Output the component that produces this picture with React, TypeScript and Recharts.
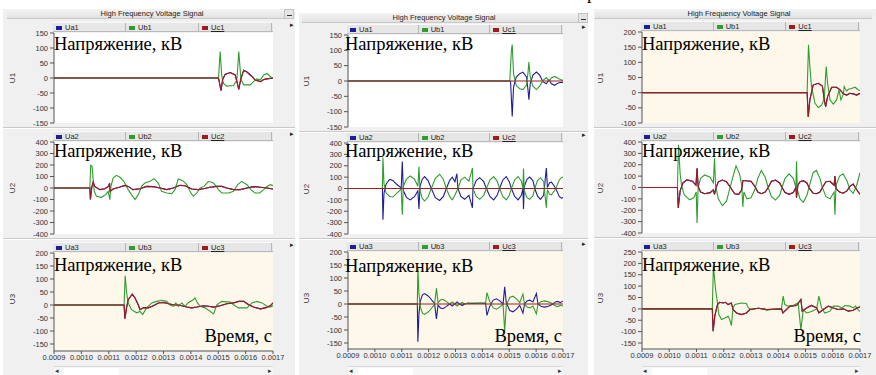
import { LineChart, Line, XAxis, YAxis, CartesianGrid } from "recharts";

// time in microseconds, shown on the axis in seconds
const timeTicks = [900, 1000, 1100, 1200, 1300, 1400, 1500, 1600, 1700];
const fmtTime = (v: number) => (v / 1e6).toFixed(4);

const ticks150 = [-150, -100, -50, 0, 50, 100, 150];
const ticks400 = [-400, -300, -200, -100, 0, 100, 200, 300, 400];
const ticks200 = [-150, -100, -50, 0, 50, 100, 150, 200];
const ticks200b = [-100, -50, 0, 50, 100, 150, 200];
const ticks250 = [-150, -100, -50, 0, 50, 100, 150, 200, 250];

const legendNames = ["Ua", "Ub", "Uc"];
const rowNames = ["U1", "U2", "U3"];
const title = "High Frequency Voltage Signal";
const voltText = "Напряжение, кВ";
const timeText = "Время, с";

const BLUE = "#1e1e96";
const GREEN = "#2f9e2f";
const RED = "#a01c1c";

type S = [number, number][];

const flat: S = [[900, 0], [1700, 0]];

// ---- column 1 ----
const c1r1B: S = [[900, 0], [1501, 0], [1507, 88], [1513, 5], [1519, -18], [1531, -27], [1556, -25], [1568, -7], [1575, 88], [1583, -5], [1593, -23], [1617, -23], [1629, -12], [1641, -3], [1654, -6], [1666, 10], [1678, 15], [1690, 5], [1700, -2]];
const c1r1C: S = [[900, 0], [1501, 0], [1510, -42], [1516, -5], [1525, 12], [1544, 18], [1562, 10], [1569, -15], [1575, -38], [1582, -5], [1593, 26], [1605, 20], [1623, 5], [1635, -7], [1654, -12], [1666, -5], [1678, -3], [1700, 0]];

const c1r2B: S = [[900, 0], [1031, 0], [1034, 197], [1039, 188], [1047, -29], [1055, -72], [1073, -81], [1089, -58], [1098, -29], [1104, -101], [1108, 15], [1116, 87], [1128, 110], [1141, 93], [1155, 58], [1171, -14], [1183, -58], [1196, -101], [1208, -58], [1220, 14], [1232, 43], [1251, 58], [1265, 81], [1281, 43], [1293, -29], [1312, -43], [1330, -49], [1342, -14], [1354, 78], [1370, 64], [1385, 29], [1400, -43], [1409, -72], [1422, -43], [1434, 0], [1448, 14], [1464, 58], [1483, 43], [1501, -14], [1513, -43], [1538, -43], [1556, -29], [1571, 29], [1586, 58], [1605, 29], [1619, -14], [1635, -43], [1651, -43], [1666, -14], [1678, 14], [1690, 29], [1700, 20]];
const c1r2C: S = [[900, 0], [1031, 0], [1033, -100], [1038, 5], [1043, 52], [1049, 14], [1067, -14], [1086, -6], [1099, 14], [1103, 43], [1105, -29], [1116, -9], [1141, 9], [1159, 23], [1171, 14], [1189, -14], [1214, -6], [1238, 14], [1263, 12], [1287, 0], [1312, -14], [1336, 0], [1360, 23], [1379, 20], [1403, -9], [1428, -14], [1446, -6], [1470, 6], [1495, 14], [1513, 14], [1531, 0], [1556, -14], [1580, -14], [1605, 0], [1629, 12], [1654, 6], [1678, 0], [1700, -9]];

const c1r3B: S = [[900, 0], [1156, 0], [1160, 112], [1165, 50], [1171, 8], [1183, -18], [1202, -30], [1214, -25], [1224, -37], [1238, -11], [1257, 8], [1275, 14], [1293, 18], [1312, 14], [1324, 0], [1336, -5], [1345, 8], [1354, -5], [1367, 8], [1379, -5], [1391, 10], [1409, 20], [1415, 27], [1424, 8], [1434, -5], [1452, -11], [1483, -34], [1495, 1], [1513, 14], [1544, 11], [1556, 1], [1574, -11], [1605, -11], [1623, 8], [1641, 14], [1660, 8], [1678, -5], [1690, -8], [1700, -3]];
const c1r3C: S = [[900, 0], [1156, 0], [1159, -53], [1165, -11], [1171, 20], [1186, 42], [1196, 27], [1208, 0], [1214, -18], [1226, -11], [1244, -11], [1263, -3], [1281, 8], [1299, 10], [1318, 5], [1336, 1], [1360, -1], [1385, -8], [1403, -11], [1422, -8], [1446, -3], [1464, -5], [1483, -8], [1507, -3], [1531, 5], [1556, 8], [1574, 14], [1593, 14], [1611, 1], [1629, -8], [1654, -15], [1672, -11], [1690, -3], [1700, 8]];

// ---- column 2 ----
const c2r1A: S = [[900, 0], [1502, 0], [1505, -3], [1511, -116], [1516, -20], [1526, 13], [1539, 24], [1551, 29], [1564, 13], [1570, -31], [1573, -61], [1578, -9], [1588, 19], [1601, 29], [1613, 19], [1626, -3], [1638, -9], [1648, 4], [1657, -9], [1669, -14], [1681, -7], [1690, -5], [1700, -5]];
const c2r1B: S = [[900, 0], [1502, 0], [1508, 100], [1511, 119], [1516, 24], [1526, -14], [1539, -25], [1551, -28], [1564, -14], [1570, 29], [1573, 62], [1578, 13], [1588, -17], [1601, -28], [1613, -17], [1626, 2], [1638, 11], [1648, 0], [1657, 11], [1669, 15], [1681, 9], [1690, 5], [1700, 2]];

const c2r2A: S = [[900, 0], [1028, 0], [1030, -275], [1034, -40], [1042, 40], [1055, 80], [1067, 70], [1082, 35], [1098, 5], [1102, 237], [1106, -20], [1118, -80], [1132, -100], [1148, -70], [1160, -20], [1164, -180], [1168, 20], [1176, 80], [1185, 105], [1198, 70], [1210, 0], [1225, -80], [1241, -105], [1255, -70], [1266, 0], [1278, 70], [1288, 100], [1298, 60], [1305, 130], [1309, 0], [1320, -70], [1334, -95], [1350, -60], [1363, -170], [1365, 0], [1377, 70], [1390, 95], [1405, 60], [1415, 0], [1428, -70], [1442, -100], [1455, -60], [1464, 0], [1476, 75], [1489, 105], [1500, 60], [1508, 0], [1520, -70], [1533, -100], [1545, -60], [1551, 0], [1553, -180], [1556, 20], [1566, 80], [1576, 100], [1588, 70], [1595, 0], [1605, -65], [1616, -95], [1628, -60], [1638, 180], [1642, 10], [1650, 50], [1657, 55], [1668, 20], [1675, -10], [1686, -70], [1694, -85], [1700, -80]];
const c2r2B: S = [[900, 0], [1028, 0], [1030, 272], [1034, 40], [1042, -40], [1055, -70], [1067, -75], [1082, -40], [1098, -5], [1102, -231], [1106, 20], [1118, 85], [1132, 110], [1148, 80], [1160, 20], [1164, 190], [1168, -20], [1176, -85], [1185, -110], [1198, -75], [1210, 0], [1225, 90], [1241, 125], [1255, 80], [1266, 0], [1278, -70], [1288, -100], [1298, -60], [1305, -20], [1309, 0], [1320, 75], [1334, 100], [1350, 65], [1363, 180], [1365, 0], [1377, -70], [1390, -95], [1405, -60], [1415, 0], [1428, 75], [1442, 105], [1455, 65], [1464, 0], [1476, -70], [1489, -100], [1500, -60], [1508, 0], [1520, 75], [1533, 105], [1545, 65], [1551, 0], [1553, 175], [1556, -20], [1566, -80], [1576, -95], [1588, -65], [1595, 0], [1605, 70], [1616, 95], [1628, 60], [1638, -170], [1642, -10], [1650, -50], [1657, -55], [1668, -20], [1675, 10], [1686, 75], [1694, 95], [1700, 100]];

const c2r3A: S = [[900, 0], [1158, 0], [1160, -145], [1164, -38], [1169, 10], [1177, 35], [1185, 40], [1197, 32], [1204, 25], [1214, 12], [1222, 2], [1229, -57], [1235, -5], [1244, -15], [1253, -18], [1265, -10], [1278, 0], [1288, -8], [1297, 0], [1306, 8], [1315, 0], [1325, -6], [1334, 0], [1347, 4], [1359, 2], [1390, 3], [1412, 3], [1417, -44], [1427, -10], [1440, 15], [1452, 20], [1465, 12], [1477, 0], [1483, 66], [1489, 5], [1502, -25], [1514, -30], [1527, -20], [1539, -5], [1551, -35], [1557, 0], [1566, 12], [1576, 15], [1588, 8], [1601, 40], [1607, 0], [1620, -10], [1632, -12], [1648, -8], [1663, 0], [1672, 8], [1681, 10], [1690, 5], [1700, 12]];
const c2r3B: S = [[900, 0], [1158, 0], [1160, 140], [1164, 40], [1169, -10], [1177, -35], [1185, -40], [1197, -32], [1204, -25], [1214, -12], [1222, -2], [1229, 60], [1235, 5], [1244, 15], [1253, 18], [1265, 10], [1278, 0], [1288, 8], [1297, 0], [1306, -8], [1315, 0], [1325, 6], [1334, 0], [1347, 3], [1359, 4], [1390, 4], [1412, 4], [1417, 44], [1427, 10], [1440, -15], [1452, -20], [1465, -12], [1477, 0], [1483, -104], [1489, -5], [1502, 25], [1514, 30], [1527, 20], [1539, 5], [1551, 38], [1557, 0], [1566, -12], [1576, -15], [1588, -8], [1601, -38], [1607, 0], [1620, 10], [1632, 12], [1648, 8], [1663, 0], [1672, -8], [1681, -10], [1690, -5], [1700, -8]];

// ---- column 3 ----
const c3r1B: S = [[900, 0], [1506, 0], [1511, 158], [1516, 86], [1522, 20], [1535, -35], [1547, -49], [1559, -41], [1569, -19], [1574, 60], [1576, 86], [1581, 31], [1590, -24], [1602, -38], [1614, -24], [1623, 9], [1630, -24], [1639, -5], [1642, 20], [1651, 5], [1657, 11], [1669, 14], [1682, 18], [1694, 9], [1700, 7]];
const c3r1C: S = [[900, 0], [1506, 0], [1510, -80], [1516, -24], [1528, 25], [1547, 31], [1562, 22], [1569, -24], [1574, -46], [1581, -13], [1596, 18], [1614, 18], [1627, 9], [1639, -4], [1651, -8], [1663, -2], [1675, -4], [1688, -8], [1700, -2]];

const c3r2B: S = [[900, 0], [1030, 0], [1034, 375], [1040, 120], [1045, 20], [1055, -64], [1075, -108], [1090, -90], [1099, -40], [1102, -313], [1106, 0], [1115, 80], [1130, 111], [1150, 90], [1162, 40], [1166, 258], [1170, 20], [1180, -100], [1195, -160], [1210, -120], [1220, -30], [1230, 60], [1245, 190], [1258, 120], [1266, 20], [1270, -170], [1274, -40], [1285, -100], [1300, -90], [1314, -20], [1325, 80], [1338, 150], [1352, 90], [1363, 0], [1375, -80], [1390, -110], [1405, -70], [1414, 0], [1425, 80], [1440, 120], [1455, 80], [1465, 0], [1467, 230], [1470, -20], [1480, -100], [1492, -130], [1505, -70], [1515, 20], [1528, 130], [1540, 150], [1553, 80], [1562, 0], [1575, -80], [1590, -100], [1605, -40], [1608, -240], [1612, 20], [1625, 100], [1638, 120], [1652, 60], [1663, -20], [1675, -50], [1688, 20], [1700, 130]];
const c3r2C: S = [[900, 0], [1030, 0], [1033, -180], [1040, -30], [1050, 40], [1065, 67], [1085, 55], [1098, 20], [1102, 170], [1106, 10], [1115, -40], [1130, -55], [1150, -45], [1162, -20], [1166, -60], [1172, 0], [1180, 50], [1195, 65], [1210, 50], [1225, 0], [1240, -55], [1255, -60], [1266, -20], [1270, 60], [1280, 60], [1300, 55], [1314, 10], [1325, -40], [1338, -55], [1352, -40], [1363, 0], [1375, 55], [1390, 65], [1405, 40], [1414, 0], [1425, -45], [1440, -60], [1455, -45], [1465, 0], [1467, -90], [1472, 20], [1480, 50], [1492, 60], [1505, 40], [1515, -10], [1528, -50], [1540, -55], [1553, -40], [1562, 0], [1575, 50], [1590, 55], [1605, 20], [1608, 100], [1612, -10], [1625, -40], [1638, -50], [1652, -30], [1663, 10], [1675, 30], [1688, -20], [1700, -60]];

const c3r3B: S = [[900, 0], [1158, 0], [1162, 188], [1170, 85], [1177, 26], [1182, -25], [1192, -47], [1204, -40], [1216, -32], [1222, -47], [1228, -74], [1234, 4], [1241, 19], [1265, 26], [1283, 24], [1290, 4], [1302, -3], [1326, 3], [1351, 0], [1357, -7], [1375, -3], [1400, 0], [1412, 3], [1418, 56], [1424, 19], [1437, 12], [1449, 12], [1473, 26], [1483, -91], [1492, -3], [1504, -18], [1522, -12], [1541, 0], [1549, 56], [1559, 4], [1571, -18], [1590, -10], [1602, 12], [1620, 12], [1633, 4], [1645, 15], [1663, 12], [1675, 4], [1684, 12], [1694, -6], [1700, -12]];
const c3r3C: S = [[900, 0], [1158, 0], [1161, -98], [1167, -32], [1177, 19], [1185, 29], [1198, 26], [1206, 29], [1216, 19], [1228, 26], [1234, -3], [1247, -18], [1265, -25], [1283, -18], [1296, -3], [1326, 3], [1357, -3], [1412, 0], [1417, -18], [1424, -10], [1443, 12], [1467, 15], [1483, 41], [1488, -10], [1504, 4], [1522, 15], [1541, 4], [1549, -18], [1565, -3], [1584, 12], [1602, 4], [1620, -3], [1639, 0], [1657, -10], [1675, -6], [1688, 3], [1700, 9]];

// series per column / row: [Ua, Ub, Uc]
const seriesGrid: S[][][] = [
  [[c1r1C, c1r1B, c1r1C], [c1r2C, c1r2B, c1r2C], [c1r3C, c1r3B, c1r3C]],
  [[c2r1A, c2r1B, flat], [c2r2A, c2r2B, flat], [c2r3A, c2r3B, flat]],
  [[c3r1C, c3r1B, c3r1C], [c3r2C, c3r2B, c3r2C], [c3r3C, c3r3B, c3r3C]],
];

const domains: [number, number][][] = [
  [[-150, 150], [-400, 400], [-150, 200]],
  [[-150, 150], [-400, 400], [-150, 200]],
  [[-100, 200], [-400, 400], [-150, 250]],
];
const tickGrid = [
  [ticks150, ticks400, ticks200],
  [ticks150, ticks400, ticks200],
  [ticks200b, ticks400, ticks250],
];
const cream = [
  [false, false, true],
  [false, false, true],
  [true, false, true],
];

const cols = [
  { frameX: 3, frameW: 292, titleTop: 9, titleLeft: 7, titleW: 277, titleCx: 152, x: 54, w: 219, tops: [33, 142, 253], hs: [90, 92, 91], gap: 7, btn: 284, arrow: 290, head: [50, 157.5, 271], headX: 54, timeRight: 272 },
  { frameX: 299, frameW: 289, titleTop: 13, titleLeft: 302, titleW: 276, titleCx: 444, x: 348, w: 215, tops: [35, 143, 252], hs: [92, 91, 91], gap: 6, btn: 578, arrow: 582, head: [50, 157, 272], headX: 345, timeRight: 562 },
  { frameX: 594, frameW: 282, titleTop: 9, titleLeft: 595, titleW: 277, titleCx: 739, x: 642, w: 218, tops: [32, 142, 252], hs: [91, 91, 91], gap: 6, btn: null, arrow: null, head: [50, 157, 271], headX: 642, timeRight: 861 },
];

const ui = "'Liberation Sans', Arial, sans-serif";
const serif = "'Liberation Serif', 'Times New Roman', serif";
const colors = [BLUE, GREEN, RED];
const bigFont = 18.5;
const baseOff = bigFont * 0.8375;

function Panel({ x, y, w, h, domain, ticks, bg, series, axis, gap }: any) {
  const [lo, hi] = domain;
  const plotH = axis ? h + gap : h;
  const low = axis ? lo - (gap * (hi - lo)) / h : lo;
  const yw = 50;
  const top = 6;
  const right = 16;
  const xh = axis ? 16 : 0;
  return (
    <div style={{ position: "absolute", left: x - yw, top: y - top }}>
      <LineChart
        width={yw + w + right}
        height={top + plotH + xh + (axis ? 0 : 4)}
        margin={{ top, right, bottom: axis ? 0 : 4, left: 0 }}
      >
        <CartesianGrid horizontal={false} vertical={false} fill={bg} fillOpacity={1} stroke="none" />
        <XAxis
          type="number"
          dataKey="t"
          domain={[900, 1700]}
          ticks={timeTicks}
          interval={0}
          hide={!axis}
          height={xh}
          tickFormatter={fmtTime}
          tick={{ fontSize: 7.5, fill: "#333", fontFamily: ui }}
          tickSize={3}
          tickMargin={1}
          axisLine={{ stroke: "#555" }}
          tickLine={{ stroke: "#555" }}
          allowDataOverflow
        />
        <YAxis
          type="number"
          domain={[low, hi]}
          ticks={ticks}
          interval={0}
          width={yw}
          tick={{ fontSize: 7.5, fill: "#333", fontFamily: ui }}
          tickSize={4}
          tickMargin={2}
          axisLine={{ stroke: "#555" }}
          tickLine={{ stroke: "#555" }}
          allowDataOverflow
        />
        {series.map((s: S, i: number) => (
          <Line
            key={i}
            data={s.map(([t, v]) => ({ t, v }))}
            dataKey="v"
            type="linear"
            stroke={colors[i]}
            strokeWidth={1.1}
            dot={false}
            isAnimationActive={false}
          />
        ))}
      </LineChart>
    </div>
  );
}

function LegendBar({ x, y, w, row }: any) {
  const cw = w / 3;
  return (
    <div style={{ position: "absolute", left: x - 1, top: y, width: w + 1, height: 10, background: "#e6e6e6", borderTop: "1px solid #fafafa", borderBottom: "1px solid #b9b9b9", boxSizing: "border-box" }}>
      {legendNames.map((n, i) => (
        <div key={n} style={{ position: "absolute", left: i * cw, top: 0, width: cw, height: 9, borderRight: "1px solid #b5b5b5", boxSizing: "border-box", fontFamily: ui, fontSize: 7.5, lineHeight: "9px", color: "#222" }}>
          <span style={{ position: "absolute", left: 3, top: 3, width: 6, height: 4, background: colors[i] }} />
          <span style={{ position: "absolute", left: 12, top: 0, textDecoration: i === 2 ? "underline" : "none" }}>{n + (row + 1)}</span>
        </div>
      ))}
    </div>
  );
}

export default function App() {
  return (
    <div style={{ position: "absolute", left: 0, top: 0, width: 876, height: 375, overflow: "hidden", background: "#fff" }}>
      {cols.map((c, ci) => (
        <div key={ci}>
          {/* frame */}
          <div style={{ position: "absolute", left: c.frameX, top: c.titleTop, width: c.frameW, height: 375 - c.titleTop, background: "#f0f0f0" }} />
          <div style={{ position: "absolute", left: c.titleLeft, top: c.titleTop, width: c.titleW, height: 10, background: "linear-gradient(#f4f4f4, #e2e2e2)", borderBottom: "1px solid #c8c8c8", boxSizing: "border-box" }} />
          <div style={{ position: "absolute", left: c.titleCx - 60, top: c.titleTop, width: 120, height: 10, textAlign: "center", fontFamily: ui, fontSize: 7.5, lineHeight: "10px", color: "#222" }}>{title}</div>
          {c.btn !== null && (
            <div style={{ position: "absolute", left: c.btn, top: c.titleTop, width: 10, height: 10, background: "#e4e4e4", border: "1px solid #c4c4c4", boxSizing: "border-box" }}>
              <div style={{ position: "absolute", left: 2, top: 5, width: 5, height: 1, background: "#333" }} />
            </div>
          )}
          {c.tops.map((t, ri) => {
            const h = c.hs[ri];
            const axis = ri === 2;
            return (
              <div key={ri}>
                <LegendBar x={c.x} y={t - 11} w={c.w} row={ri} />
                {c.arrow !== null && (
                  <div style={{ position: "absolute", left: c.arrow, top: t - 12, fontFamily: ui, fontSize: 7, color: "#222" }}>▸</div>
                )}
                {!axis && (
                  <div style={{ position: "absolute", left: c.frameX, top: t + h + 4, width: c.frameW, height: 1, background: "#c9c9c9", borderBottom: "1px solid #fff" }} />
                )}
                <Panel
                  x={c.x}
                  y={t}
                  w={c.w}
                  h={h}
                  domain={domains[ci][ri]}
                  ticks={tickGrid[ci][ri]}
                  bg={cream[ci][ri] ? "#fdf8ea" : "#ffffff"}
                  series={seriesGrid[ci][ri]}
                  axis={axis}
                  gap={c.gap}
                />
                <div style={{ position: "absolute", left: c.x - 41 - 20, top: t + h / 2 - 5, width: 40, height: 10, textAlign: "center", transform: "rotate(-90deg)", fontFamily: ui, fontSize: 8, lineHeight: "10px", color: "#333" }}>{rowNames[ri]}</div>
                <div style={{ position: "absolute", left: c.headX, top: c.head[ri] - baseOff, fontFamily: serif, fontSize: bigFont, lineHeight: `${bigFont}px`, whiteSpace: "nowrap", color: "#000" }}>{voltText}</div>
              </div>
            );
          })}
          <div style={{ position: "absolute", left: c.timeRight - 120, width: 120, textAlign: "right", top: 342 - baseOff, fontFamily: serif, fontSize: bigFont, lineHeight: `${bigFont}px`, whiteSpace: "nowrap", color: "#000" }}>{timeText}</div>
          {/* scrollbar */}
          <div style={{ position: "absolute", left: c.x, top: 366, width: c.w, height: 9, background: "#f6f6f6", borderTop: "1px solid #d8d8d8", boxSizing: "border-box" }}>
            <div style={{ position: "absolute", left: 10, top: 1, width: 55, height: 8, background: "#ffffff" }} />
            <div style={{ position: "absolute", left: 1, top: 0, fontFamily: ui, fontSize: 7, color: "#333" }}>◂</div>
            <div style={{ position: "absolute", right: 1, top: 0, fontFamily: ui, fontSize: 7, color: "#333" }}>▸</div>
          </div>
        </div>
      ))}
      <div style={{ position: "absolute", left: 587, top: -16, fontFamily: serif, fontSize: bigFont, lineHeight: `${bigFont}px`, color: "#000" }}>р</div>
    </div>
  );
}
